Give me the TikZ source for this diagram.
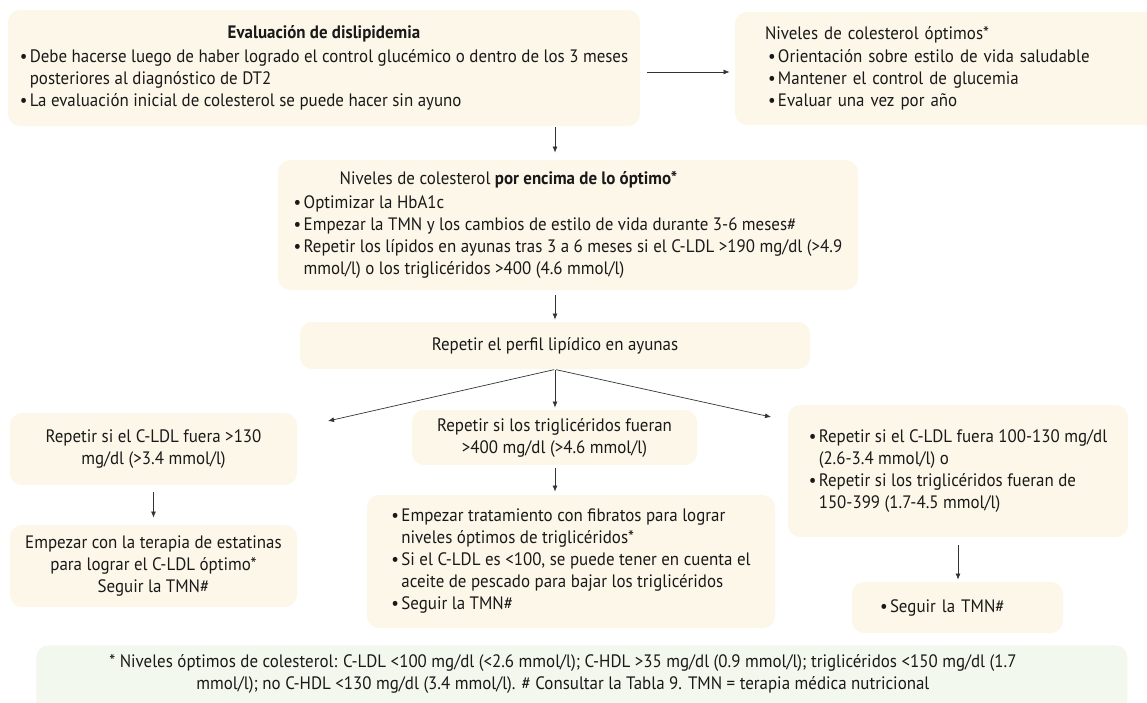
\documentclass[tikz,border=0pt]{standalone}
\usepackage{fontspec}
\setmainfont{PT Sans}[FakeStretch=0.94]
\usepackage{xcolor}
\usepackage{tikz}
\usetikzlibrary{arrows.meta}

\definecolor{cream}{HTML}{FCF7E9}
\definecolor{mint}{HTML}{F3F8EE}
\definecolor{ink}{HTML}{333333}

\newcommand{\bul}{\makebox[10pt][l]{•}}
\newcommand{\ind}{\hspace*{10pt}}

\begin{document}
\begin{tikzpicture}[x=1pt, y=-1pt, line width=0.3mm,
    box/.style={fill=cream, rounded corners=12pt, inner xsep=0pt, inner ysep=0pt,
                font=\fontsize{18}{22}\selectfont, text=black!90},
    arr/.style={draw=ink, line width=0.7pt, -{Latex[length=6pt,width=5pt]}}]
    \useasboundingbox (0,0) rectangle (1147,702);

    % top row
    \node[box, minimum width=632pt, minimum height=116pt](A) at (324, 68)
      {\begin{tabular}{@{}l@{}}
       \multicolumn{1}{@{}c@{}}{\textbf{Evaluación de dislipidemia}}\\[2pt]
       \bul Debe hacerse luego de haber logrado el control glucémico o dentro de los 3 meses\\
       \ind posteriores al diagnóstico de DT2\\
       \bul La evaluación inicial de colesterol se puede hacer sin ayuno
       \end{tabular}};
    \node[box, minimum width=425pt, minimum height=113pt, text width=365pt, align=left](B) at (947.5, 68.5)
      {Niveles de colesterol óptimos*\\[1pt]
       \hspace*{3pt}\bul Orientación sobre estilo de vida saludable\\
       \hspace*{3pt}\bul Mantener el control de glucemia\\
       \hspace*{3pt}\bul Evaluar una vez por año};

    % middle
    \node[box, minimum width=580pt, minimum height=130pt, align=left](C) at (568, 225)
      {\hspace*{46pt}Niveles de colesterol \textbf{por encima de lo óptimo*}\\[2pt]
       \bul Optimizar la HbA1c\\
       \bul Empezar la TMN y los cambios de estilo de vida durante 3-6 meses\#\\
       \bul Repetir los lípidos en ayunas tras 3 a 6 meses si el C-LDL >190 mg/dl (>4.9\\
       \ind mmol/l) o los triglicéridos >400 (4.6 mmol/l)};
    \node[box, minimum width=510pt, minimum height=47pt, align=center](D) at (555, 345.5)
      {Repetir el perfil lipídico en ayunas};

    % three branches
    \node[box, minimum width=287pt, minimum height=72pt, align=center](E1) at (153.5, 449)
      {Repetir si el C-LDL fuera >130\\ mg/dl (>3.4 mmol/l)};
    \node[box, minimum width=285pt, minimum height=55pt, align=center](E2) at (554.5, 437.5)
      {Repetir si los triglicéridos fueran\\ >400 mg/dl (>4.6 mmol/l)};
    \node[box, minimum width=340pt, minimum height=132pt, align=left](E3) at (958, 471)
      {\bul Repetir si el C-LDL fuera 100-130 mg/dl\\
       \ind (2.6-3.4 mmol/l) o\\
       \bul Repetir si los triglicéridos fueran de\\
       \ind 150-399 (1.7-4.5 mmol/l)};

    \node[box, minimum width=287pt, minimum height=82pt, align=center](F1) at (153.5, 566)
      {Empezar con la terapia de estatinas\\ para lograr el C-LDL óptimo*\\ Seguir la TMN\#};
    \node[box, minimum width=408pt, minimum height=133pt, align=left](F2) at (571, 561.5)
      {\bul Empezar tratamiento con fibratos para lograr\\
       \ind niveles óptimos de triglicéridos*\\
       \bul Si el C-LDL es <100, se puede tener en cuenta el\\
       \ind aceite de pescado para bajar los triglicéridos\\
       \bul Seguir la TMN\#};
    \node[box, minimum width=211pt, minimum height=51pt, text width=155pt, align=left](F3) at (957.5, 607.5)
      {\bul Seguir la TMN\#};

    % footnote
    \node[box, fill=mint, minimum width=1091pt, minimum height=70pt, align=center, anchor=north west](N) at (36, 645)
      {\hspace*{-38pt}\parbox{1060pt}{\centering
       * Niveles óptimos de colesterol: C-LDL <100 mg/dl (<2.6 mmol/l); C-HDL >35 mg/dl (0.9 mmol/l); triglicéridos <150 mg/dl (1.7\\
       mmol/l); no C-HDL <130 mg/dl (3.4 mmol/l). \# Consultar la Tabla 9. TMN = terapia médica nutricional\\[12pt]}};

    \coordinate (e1in) at (328, 421);
    \coordinate (e3in) at (771, 417);

    \draw[arr, shorten <=7pt, shorten >=5pt] ([yshift=-4pt]A.east) -- ([yshift=-3.5pt]B.west);
    \draw[arr, shorten <=1pt, shorten >=7pt] (A.south -| D.north) -- (C.north -| D.north);
    \draw[arr, shorten <=5pt, shorten >=2pt] (C.south -| D.north) -- (D.north);
    \draw[arr, shorten <=1pt] (D.south) -- (e1in);
    \draw[arr, shorten <=1pt, shorten >=2pt] (D.south) -- (E2.north -| D.south);
    \draw[arr, shorten <=1pt] (D.south) -- (e3in);
    \draw[arr, shorten <=7pt, shorten >=7pt] (E1.south) -- (F1.north);
    \draw[arr, shorten <=3pt, shorten >=3pt] (E2.south -| D.south) -- (F2.north -| D.south);
    \draw[arr, shorten <=8pt, shorten >=2pt] (E3.south) -- (F3.north -| E3.south);
\end{tikzpicture}
\end{document}
